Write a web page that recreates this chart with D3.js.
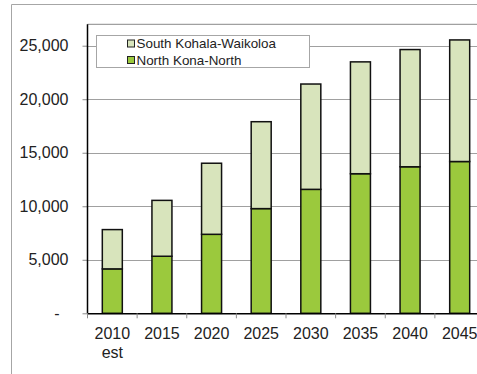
<!DOCTYPE html>
<html>
<head>
<meta charset="utf-8">
<script src="https://cdn.jsdelivr.net/npm/d3@7"></script>
<style>
  html, body { margin: 0; padding: 0; background: #fff; }
  svg { display: block; font-family: "Liberation Sans", Arial, sans-serif; }
</style>
</head>
<body>
<svg id="chart" width="477" height="374"></svg>
<script>
// Population by planning district, stacked per projection year
const years = ["2010", "2015", "2020", "2025", "2030", "2035", "2040", "2045"];
const yearLabels = [["2010", "est"], ["2015"], ["2020"], ["2025"], ["2030"], ["2035"], ["2040"], ["2045"]];
const northKona = [4150, 5330, 7380, 9780, 11580, 13040, 13690, 14180];
const southKohala = [3670, 5220, 6640, 8120, 9840, 10450, 10950, 11360];
const seriesNames = ["South Kohala-Waikoloa", "North Kona-North"];
const yTicks = [0, 5000, 10000, 15000, 20000, 25000];

const svg = d3.select("#chart");
const plot = { left: 87.5, right: 484.5, top: 24.3, bottom: 313.3 };

const x = d3.scaleBand().domain(years).range([plot.left, plot.right]).paddingInner(0).paddingOuter(0);
const y = d3.scaleLinear().domain([0, 27000]).range([plot.bottom, plot.top]);
const barW = 20;

// Outer chart frame
svg.append("path")
  .attr("d", `M11.5,380 V4.5 H490`)
  .attr("fill", "none").attr("stroke", "#a6a6a6").attr("stroke-width", 1);

// Plot area top border
svg.append("line")
  .attr("x1", plot.left).attr("x2", plot.right)
  .attr("y1", plot.top).attr("y2", plot.top)
  .attr("stroke", "#a0a0a0").attr("stroke-width", 1.2);

// Horizontal gridlines
svg.append("g").selectAll("line")
  .data(yTicks.filter(d => d > 0))
  .join("line")
  .attr("x1", plot.left).attr("x2", plot.right)
  .attr("y1", d => Math.round(y(d)) + 0.5).attr("y2", d => Math.round(y(d)) + 0.5)
  .attr("stroke", "#a0a0a0").attr("stroke-width", 1.2);

// Y axis
const fmt = d3.format(",");
const yAxis = d3.axisLeft(y).tickValues(yTicks).tickSize(5).tickPadding(0)
  .tickFormat(d => d === 0 ? "-" : fmt(d));
const gy = svg.append("g").attr("transform", `translate(${plot.left},0)`).call(yAxis);
gy.select(".domain").remove();
gy.selectAll(".tick line").attr("stroke", "#8c8c8c");
gy.selectAll(".tick text")
  .attr("x", d => d === 0 ? -28 : -19)
  .attr("font-size", 16).attr("fill", "#222");

// Stacked bars
const rows = years.map((yr, i) => ({ year: yr, north: northKona[i], south: southKohala[i] }));
const stacked = d3.stack().keys(["north", "south"])(rows);
const fills = { north: "#9bc93d", south: "#d8e4bc" };

svg.append("g").selectAll("g")
  .data(stacked)
  .join("g")
  .attr("fill", d => fills[d.key])
  .selectAll("rect")
  .data(d => d)
  .join("rect")
  .attr("x", d => x(d.data.year) + (x.bandwidth() - barW) / 2)
  .attr("width", barW)
  .attr("y", d => y(d[1]))
  .attr("height", d => y(d[0]) - y(d[1]))
  .attr("stroke", "#111").attr("stroke-width", 1.5);

// X axis
const xAxis = d3.axisBottom(x).tickSize(0).tickFormat("");
const gx = svg.append("g").attr("transform", `translate(0,${plot.bottom})`).call(xAxis);
gx.select(".domain").attr("stroke", "#000").attr("stroke-width", 1.5);
// category boundary tick marks
svg.append("g").selectAll("line")
  .data(years)
  .join("line")
  .attr("x1", d => x(d)).attr("x2", d => x(d))
  .attr("y1", plot.bottom).attr("y2", plot.bottom + 5)
  .attr("stroke", "#8c8c8c");

// Category labels
svg.append("g").selectAll("text")
  .data(years)
  .join("text")
  .attr("x", d => x(d) + x.bandwidth() / 2)
  .attr("y", 339)
  .attr("text-anchor", "middle")
  .attr("font-size", 16).attr("fill", "#222")
  .selectAll("tspan")
  .data((d, i) => yearLabels[i])
  .join("tspan")
  .attr("x", function () { return d3.select(this.parentNode).attr("x"); })
  .attr("dy", (d, i) => i === 0 ? 0 : 18.5)
  .text(d => d);

// Left value axis line
svg.append("line")
  .attr("x1", plot.left).attr("x2", plot.left)
  .attr("y1", plot.top).attr("y2", plot.bottom)
  .attr("stroke", "#000").attr("stroke-width", 1.5);

// Legend
const legend = svg.append("g");
legend.append("rect")
  .attr("x", 96.5).attr("y", 35.5).attr("width", 213).attr("height", 32)
  .attr("fill", "#fff").attr("stroke", "#a6a6a6");
const legendColors = [fills.south, fills.north];
seriesNames.forEach((name, i) => {
  const cy = 43.5 + i * 16.5;
  legend.append("rect")
    .attr("x", 127.5).attr("y", cy - 3.5).attr("width", 7).attr("height", 7)
    .attr("fill", legendColors[i]).attr("stroke", "#222").attr("stroke-width", 1);
  legend.append("text")
    .attr("x", 136.5).attr("y", cy + 4.7)
    .attr("font-size", 13.4).attr("fill", "#222")
    .text(name);
});
</script>
</body>
</html>
